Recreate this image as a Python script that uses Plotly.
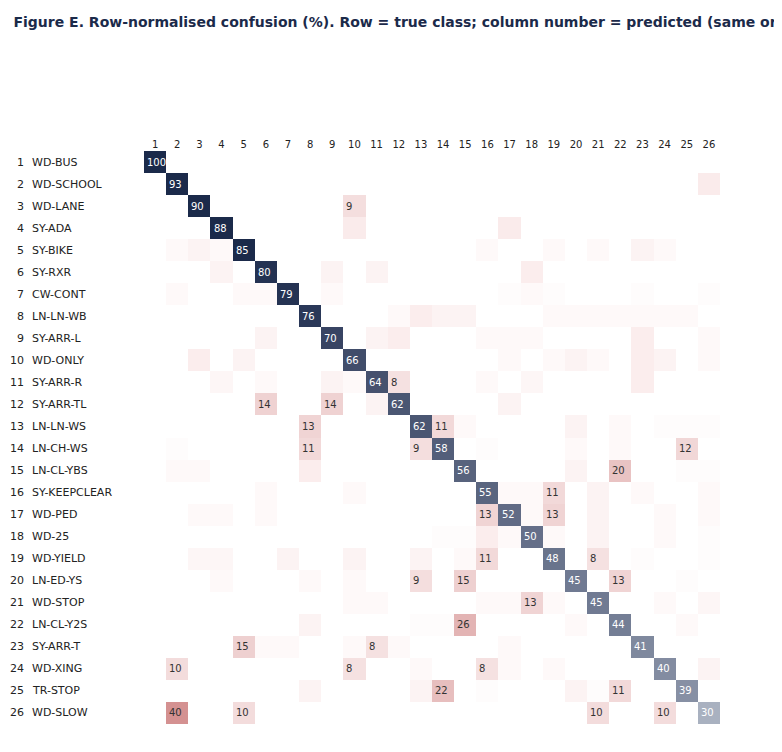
import numpy as np
import plotly.graph_objects as go

classes = ["WD-BUS", "WD-SCHOOL", "WD-LANE", "SY-ADA", "SY-BIKE", "SY-RXR", "CW-CONT",
           "LN-LN-WB", "SY-ARR-L", "WD-ONLY", "SY-ARR-R", "SY-ARR-TL", "LN-LN-WS",
           "LN-CH-WS", "LN-CL-YBS", "SY-KEEPCLEAR", "WD-PED", "WD-25", "WD-YIELD",
           "LN-ED-YS", "WD-STOP", "LN-CL-Y2S", "SY-ARR-T", "WD-XING", "TR-STOP", "WD-SLOW"]
n = len(classes)

diag_values = [100, 93, 90, 88, 85, 80, 79, 76, 70, 66, 64, 62, 62, 58, 56, 55, 52, 50,
               48, 45, 45, 44, 41, 40, 39, 30]

# off-diagonal cells: (true row, predicted column, percent), 1-based
off_cells = [
    (2, 26, 4), (3, 10, 9), (4, 10, 4), (4, 17, 4),
    (5, 2, 1), (5, 3, 2), (5, 4, 1), (5, 16, 1), (5, 19, 1), (5, 21, 1), (5, 23, 2), (5, 24, 1),
    (6, 4, 2), (6, 9, 2), (6, 11, 2), (6, 18, 3),
    (7, 2, 1), (7, 5, 1), (7, 6, 1), (7, 9, 1), (7, 18, 1), (7, 17, 0.5), (7, 19, 0.5), (7, 23, 0.5), (7, 26, 0.5),
    (8, 12, 1), (8, 13, 3), (8, 14, 2), (8, 15, 2), (8, 19, 1), (8, 20, 1), (8, 21, 1), (8, 22, 1), (8, 23, 1), (8, 24, 1), (8, 25, 1),
    (9, 6, 2), (9, 11, 2), (9, 12, 3), (9, 16, 1), (9, 17, 1), (9, 18, 1), (9, 23, 3), (9, 26, 1),
    (10, 3, 3), (10, 5, 2), (10, 17, 1), (10, 19, 1), (10, 20, 2), (10, 21, 1), (10, 23, 3), (10, 24, 2), (10, 26, 1),
    (11, 4, 1.5), (11, 6, 1), (11, 9, 2), (11, 10, 1), (11, 12, 8), (11, 16, 1), (11, 18, 1.5), (11, 23, 3),
    (12, 6, 14), (12, 9, 14), (12, 11, 2), (12, 17, 2),
    (13, 8, 13), (13, 14, 11), (13, 15, 1), (13, 20, 2), (13, 22, 1), (13, 24, 0.5), (13, 25, 0.5), (13, 26, 0.5),
    (14, 8, 11), (14, 13, 9), (14, 25, 12), (14, 2, 0.5), (14, 16, 0.5), (14, 20, 1), (14, 22, 1),
    (15, 22, 20), (15, 20, 2), (15, 8, 3), (15, 2, 1), (15, 3, 1), (15, 26, 0.5), (15, 25, 0.5),
    (16, 19, 11), (16, 6, 1), (16, 10, 1), (16, 17, 1), (16, 18, 1), (16, 21, 2), (16, 23, 1), (16, 26, 1),
    (17, 16, 13), (17, 19, 13), (17, 3, 1), (17, 4, 1), (17, 6, 1), (17, 18, 1), (17, 21, 2), (17, 24, 1), (17, 26, 1),
    (18, 16, 3), (18, 17, 1), (18, 19, 1), (18, 21, 2), (18, 14, 0.5), (18, 15, 0.5), (18, 24, 1), (18, 26, 0.5),
    (19, 21, 8), (19, 16, 11), (19, 13, 2), (19, 15, 1), (19, 3, 1.5), (19, 4, 1.5), (19, 7, 2), (19, 10, 2), (19, 23, 0.5), (19, 26, 0.5),
    (20, 13, 9), (20, 15, 15), (20, 22, 13), (20, 4, 1), (20, 8, 1), (20, 10, 1), (20, 25, 0.5),
    (21, 18, 13), (21, 16, 1), (21, 17, 1), (21, 19, 1), (21, 24, 1), (21, 26, 1.5), (21, 10, 1), (21, 11, 1),
    (22, 15, 26), (22, 14, 0.5), (22, 13, 0.5), (22, 20, 1), (22, 25, 1), (22, 8, 2),
    (23, 5, 15), (23, 11, 8), (23, 6, 1), (23, 10, 1), (23, 12, 1), (23, 7, 1), (23, 17, 1),
    (24, 2, 10), (24, 10, 8), (24, 16, 8), (24, 13, 1), (24, 17, 1), (24, 19, 1), (24, 26, 2),
    (25, 14, 22), (25, 22, 11), (25, 13, 2), (25, 20, 2), (25, 8, 2), (25, 16, 0.5), (25, 21, 0.5),
    (26, 2, 40), (26, 5, 10), (26, 21, 10), (26, 24, 10),
]

cols = list(range(1, n + 1))
diag = np.full((n, n), np.nan)
off = np.full((n, n), np.nan)
for i, v in enumerate(diag_values):
    diag[i, i] = v
for r, c, v in off_cells:
    off[r - 1, c - 1] = v

navy = "#1b2a4a"
fig = go.Figure()
fig.add_trace(go.Heatmap(z=off, x=cols, y=cols, zmin=0, zmax=55, showscale=False,
                         colorscale=[[0, "#ffffff"], [0.05, "#fbeeee"], [1, "#c46c6c"]], hoverongaps=False))
fig.add_trace(go.Heatmap(z=diag, x=cols, y=cols, zmin=0, zmax=100, showscale=False,
                         colorscale=[[0, "#ffffff"], [0.3, "#a9b1c0"], [0.45, "#707a92"],
                                     [0.6, "#4f5a76"], [0.75, "#2c3959"], [0.85, navy], [1, navy]],
                         hoverongaps=False))

L = 136
W = 576
ann = []
for i in range(n):
    for j in range(n):
        v = diag[i, j] if i == j else off[i, j]
        if np.isnan(v) or (i != j and v < 8):
            continue
        ann.append(dict(x=j + 1 - 0.45, y=i + 1, text=f"{v:.0f}", showarrow=False, xanchor="left",
                        font=dict(size=10, color="white" if i == j else "#333")))
for i, name in enumerate(classes):
    ann.append(dict(xref="paper", yref="y", x=(18 - L) / W, y=i + 1, text=str(i + 1), xanchor="right",
                    showarrow=False, font=dict(size=11, color="#222")))
    ann.append(dict(xref="paper", yref="y", x=(22 - L) / W, y=i + 1, text=name, xanchor="left",
                    showarrow=False, font=dict(size=11, color="#222")))

fig.update_layout(
    width=782, height=752,
    margin=dict(l=L, r=782 - L - W, t=143, b=36),
    paper_bgcolor="white", plot_bgcolor="white",
    font=dict(family="DejaVu Sans", color="#222"),
    title=dict(text="<b>Figure E. Row-normalised confusion (%). Row = true class; column number = predicted (same order)</b>",
               x=0.007, xanchor="left", y=0.988, yanchor="top", font=dict(size=14, color=navy)),
    xaxis=dict(side="top", tickmode="array", tickvals=cols, ticktext=[str(c) for c in cols],
               tickfont=dict(size=10), showgrid=False, zeroline=False, ticks="", range=[0.5, n + 0.5]),
    yaxis=dict(autorange="reversed", showticklabels=False, showgrid=False, zeroline=False, ticks=""),
    annotations=ann,
)

fig.write_html("out.html")
